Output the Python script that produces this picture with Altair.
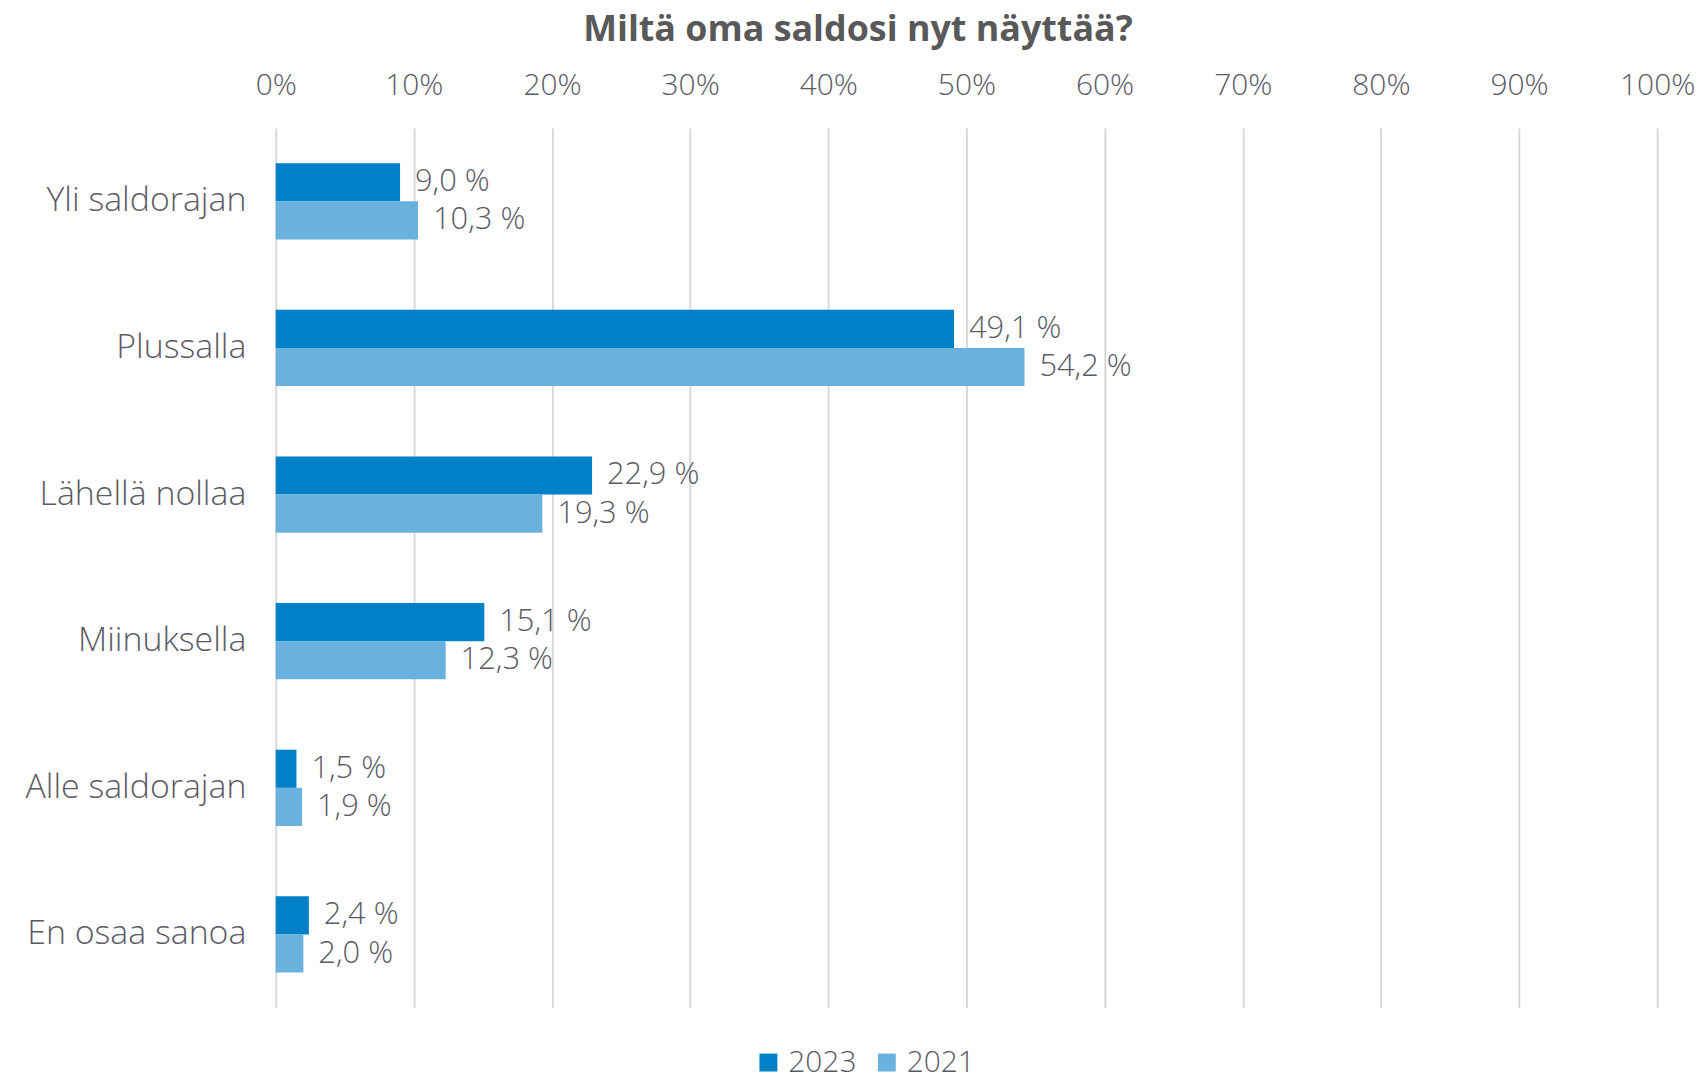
import altair as alt
import pandas as pd

categories = ["Yli saldorajan", "Plussalla", "Lähellä nollaa", "Miinuksella", "Alle saldorajan", "En osaa sanoa"]
years = ["2023", "2021"]
values_2023 = [9.0, 49.1, 22.9, 15.1, 1.5, 2.4]
values_2021 = [10.3, 54.2, 19.3, 12.3, 1.9, 2.0]
tick_values = [0, 10, 20, 30, 40, 50, 60, 70, 80, 90, 100]
colors = ["#0080C6", "#6AB2DE"]

rows = []
for cat, v23, v21 in zip(categories, values_2023, values_2021):
    for yr, v in (("2023", v23), ("2021", v21)):
        rows.append({"cat": cat, "year": yr, "value": v,
                     "label": f"{v:.1f}".replace(".", ",") + " %"})
df = pd.DataFrame(rows)

FONT = "Open Sans"
GRAY = "#5B5B66"

y_enc = alt.Y("cat:N", sort=categories,
              scale=alt.Scale(paddingInner=0.48, paddingOuter=0.24),
              axis=alt.Axis(title=None, domain=False, ticks=False, labelPadding=30,
                            labelLimit=0, labelFontSize=34, labelFont=FONT,
                            labelColor=GRAY, labelFontWeight=300))
yoff = alt.YOffset("year:N", sort=years, scale=alt.Scale(paddingInner=0, paddingOuter=0))

base = alt.Chart(df)

bars = base.mark_bar().encode(
    x=alt.X("value:Q", scale=alt.Scale(domain=[0, 100], nice=False),
            axis=alt.Axis(orient="top", values=tick_values, labelExpr="datum.value + '%'",
                          title=None, domain=False, ticks=False, grid=True,
                          gridColor="#D9D9D9", gridWidth=2, labelPadding=28,
                          labelFlush=False, labelOverlap=False, labelBound=False,
                          labelFontSize=30, labelFont=FONT, labelColor=GRAY,
                          labelFontWeight=300)),
    y=y_enc,
    yOffset=yoff,
    color=alt.Color("year:N", sort=years, scale=alt.Scale(domain=years, range=colors),
                    legend=alt.Legend(title=None, orient="none", direction="horizontal",
                                      legendX=480, legendY=924, symbolType="square",
                                      symbolSize=324, symbolStrokeWidth=0,
                                      labelFontSize=30, labelFont=FONT, labelColor=GRAY,
                                      labelFontWeight=300, labelOffset=5,
                                      columnPadding=15, symbolOpacity=1)),
)

labels = base.mark_text(align="left", baseline="middle", dx=15, font=FONT,
                        fontSize=31, color=GRAY, fontWeight=300).encode(
    x=alt.X("value:Q"),
    y=alt.Y("cat:N", sort=categories),
    yOffset=yoff,
    text="label:N",
)

chart = alt.layer(bars, labels).properties(
    width=1388, height=884,
    title=alt.TitleParams("Miltä oma saldosi nyt näyttää?", anchor="middle", dx=-109,
                          offset=21, fontSize=36, font=FONT, fontWeight="bold",
                          color="#595959"),
    autosize=alt.AutoSizeParams(type="none"),
    padding={"left": 269, "top": 118, "right": 38, "bottom": 76},
).configure_view(stroke=None)

chart.save("out.html", embed_options={"renderer": "svg", "actions": False})
